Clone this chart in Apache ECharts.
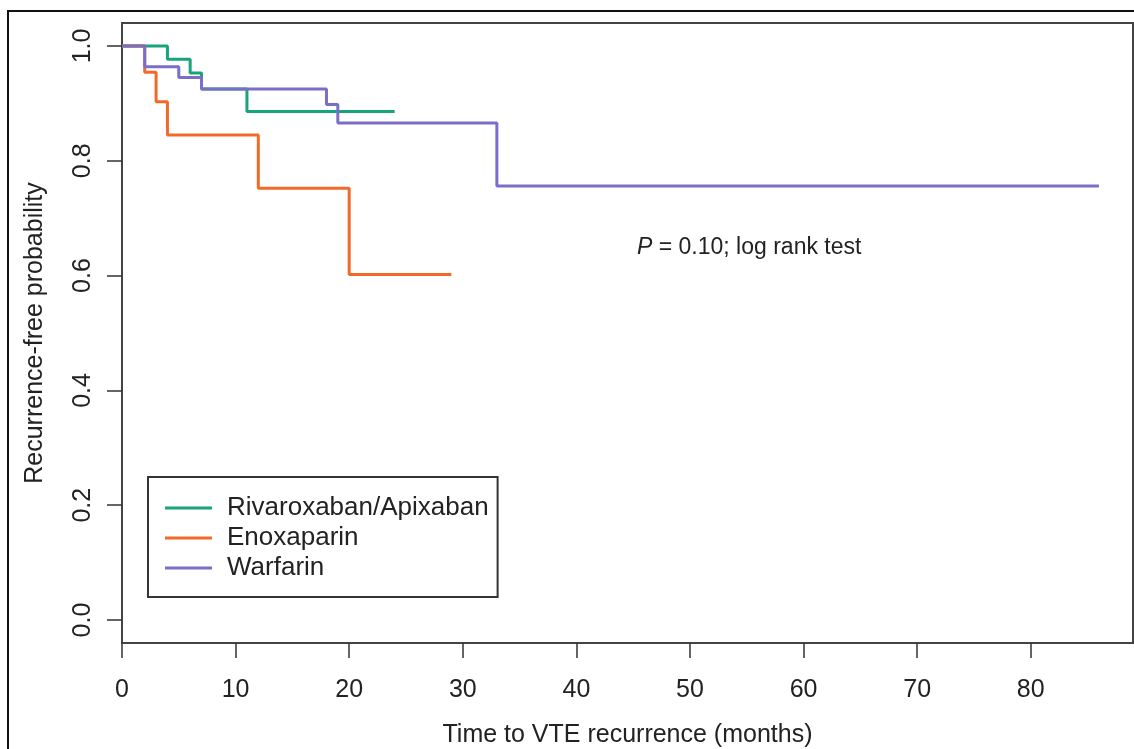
<!DOCTYPE html>
<html>
<head>
<meta charset="utf-8">
<title>Time to VTE recurrence</title>
<script src="https://cdn.jsdelivr.net/npm/echarts@6/dist/echarts.min.js"></script>
<style>
    html, body { margin: 0; padding: 0; background: #fff; }
    #chart { width: 1134px; height: 749px; }
</style>
</head>
<body>
<div id="chart"></div>
<script>
// Kaplan-Meier steps: [month, probability]
var seriesNames = ['Rivaroxaban/Apixaban', 'Enoxaparin', 'Warfarin'];
var rivaroxabanSteps = [[0, 1], [4, 0.977], [6, 0.953], [7, 0.925], [11, 0.886], [24, 0.886]];
var enoxaparinSteps = [[0, 1], [2, 0.954], [3, 0.903], [4, 0.845], [12, 0.752], [20, 0.602], [29, 0.602]];
var warfarinSteps = [[0, 1], [2, 0.964], [5, 0.945], [7, 0.925], [18, 0.898], [19, 0.866], [33, 0.756], [86, 0.756]];
var xTicks = [0, 10, 20, 30, 40, 50, 60, 70, 80];
var yTicks = [0, 0.2, 0.4, 0.6, 0.8, 1.0];
var pValueText = '0.10; log rank test';

(function () {
    var font = '"Liberation Sans", Arial, Helvetica, sans-serif';
    var colors = ['#17a47a', '#f26a2a', '#7a6ec8'];
    var stepData = [rivaroxabanSteps, enoxaparinSteps, warfarinSteps];

    var myChart = echarts.init(document.getElementById('chart'), null, { renderer: 'canvas' });

    var series = seriesNames.map(function (name, i) {
        return {
            name: name,
            type: 'line',
            step: 'end',
            data: stepData[i],
            symbol: 'none',
            showSymbol: false,
            animation: false,
            lineStyle: { color: colors[i], width: 3 },
            itemStyle: { color: colors[i] }
        };
    });

    var axisText = { color: '#222', fontFamily: font, fontSize: 25 };

    var option = {
        backgroundColor: '#fff',
        animation: false,
        grid: {
            left: 122, top: 23, right: 1, bottom: 106,
            outerBoundsMode: 'none',   // keep the box where it is, names sit near the edge
            show: true,
            borderColor: '#444',
            borderWidth: 2,
            backgroundColor: 'transparent'
        },
        xAxis: {
            type: 'value',
            min: 0,
            max: 89,
            name: 'Time to VTE recurrence (months)',
            nameLocation: 'middle',
            nameGap: 80,
            nameTextStyle: axisText,
            axisLine: { show: false, onZero: false },
            axisTick: { show: true, inside: false, length: 15, customValues: xTicks, lineStyle: { color: '#333', width: 1.5 } },
            axisLabel: { margin: 35, customValues: xTicks, color: '#222', fontFamily: font, fontSize: 25 },
            splitLine: { show: false }
        },
        yAxis: {
            type: 'value',
            min: -0.04,
            max: 1.04,
            name: 'Recurrence-free probability',
            nameLocation: 'middle',
            nameGap: 74,
            nameRotate: 90,
            nameTextStyle: axisText,
            axisLine: { show: false, onZero: false },
            axisTick: { show: true, inside: false, length: 15, customValues: yTicks, lineStyle: { color: '#333', width: 1.5 } },
            axisLabel: {
                rotate: 90,
                margin: 26,
                customValues: yTicks,
                color: '#222',
                fontFamily: font,
                fontSize: 25,
                formatter: function (v) { return v.toFixed(1); }
            },
            splitLine: { show: false }
        },
        legend: {
            data: seriesNames,
            orient: 'vertical',
            left: 148,
            top: 477,
            padding: [16, 9, 14, 17],
            itemGap: 0,
            icon: 'rect',
            itemWidth: 47,
            itemHeight: 3,
            borderColor: '#333',
            borderWidth: 2,
            textStyle: {
                color: '#222',
                fontFamily: font,
                fontSize: 26,
                lineHeight: 30,
                padding: [0, 0, 0, 10]
            }
        },
        graphic: [
            {   // outer frame of the figure
                type: 'rect',
                silent: true,
                shape: { x: 8, y: 11, width: 1300, height: 900 },
                style: { fill: 'none', stroke: '#111', lineWidth: 2 }
            },
            {   // p-value note
                type: 'text',
                left: 637,
                top: 236,
                silent: true,
                style: {
                    text: '{i|P} = ' + pValueText,
                    fill: '#222',
                    font: '23px ' + font,
                    rich: {
                        i: { fontStyle: 'italic', fontSize: 23, fontFamily: font, fill: '#222' }
                    }
                }
            }
        ],
        series: series
    };

    myChart.setOption(option);
})();
</script>
</body>
</html>
